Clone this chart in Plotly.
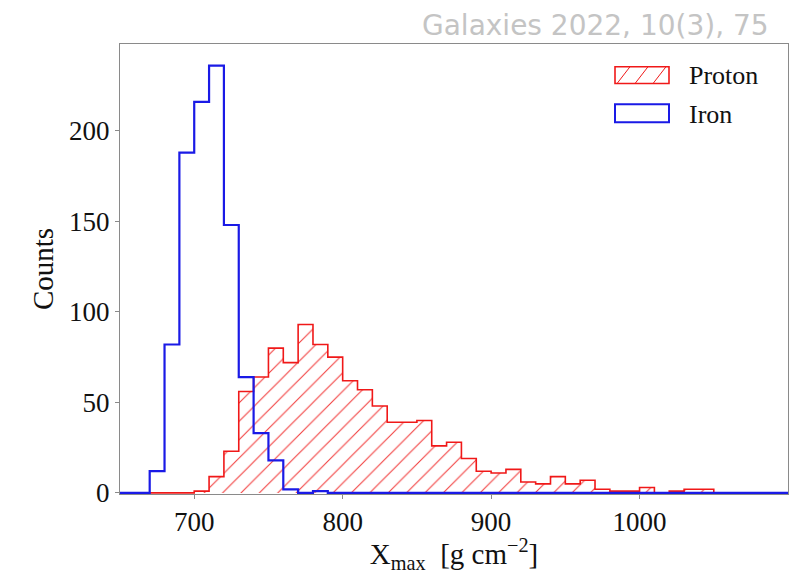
import plotly.graph_objects as go

# Histogram binning (g cm^-2)
bin_start = 650
bin_width = 10
n_bins = 45

# Counts per bin, from 650 to 1100
proton_counts = [0, 0, 0, 0, 0,
                 1, 9, 23, 56, 64, 80, 72, 93, 82, 75,
                 62, 57, 48, 39, 39, 40, 26, 28, 19, 12,
                 11, 13, 6, 5, 9, 5, 7, 2, 1, 1,
                 3, 0, 1, 2, 2, 0, 0, 0, 0, 0]
iron_counts = [0, 0, 12, 82, 188, 216, 236, 148, 64, 33, 18, 2, 0, 1,
               0, 0, 0, 0, 0, 0, 0, 0, 0, 0, 0, 0, 0, 0, 0, 0,
               0, 0, 0, 0, 0, 0, 0, 0, 0, 0, 0, 0, 0, 0, 0]

x_ticks = [700, 800, 900, 1000]
y_ticks = [0, 50, 100, 150, 200]

edges = [bin_start + i * bin_width for i in range(n_bins + 1)]

RED = "#f01818"
BLUE = "#1a1ae6"
SERIF = "Liberation Serif"


def step_outline(counts):
    xs = [edges[0]] + edges[:-1] + [edges[-1], edges[-1]]
    ys = [0] + list(counts) + [counts[-1], 0]
    return xs, ys


fig = go.Figure()

# proton histogram: hatched step fill with red outline
px_, py_ = step_outline(proton_counts)
fig.add_trace(go.Scatter(
    x=px_, y=py_, mode="lines", line=dict(color=RED, width=1.6, shape="hv"),
    fill="tozeroy", fillcolor="rgba(0,0,0,0)",
    fillpattern=dict(shape="/", fgcolor=RED, bgcolor="rgba(0,0,0,0)",
                     size=13, solidity=0.08, fgopacity=0.85),
    showlegend=False, name="Proton", hoverinfo="skip"))

# iron histogram: blue step outline
ix_, iy_ = step_outline(iron_counts)
fig.add_trace(go.Scatter(x=ix_, y=iy_, mode="lines",
                         line=dict(color=BLUE, width=2.2, shape="hv"),
                         showlegend=False, name="Iron", hoverinfo="skip"))

# plot-area geometry in pixels, used for the legend keys
W, H = 803, 574
ML, MR, MT, MB = 120, 15, 44, 75
pw, ph = W - ML - MR, H - MT - MB


def px(xp):
    return (xp - ML) / pw


def py(yp):
    return (H - MB - yp) / ph


shapes = []
# Proton key: hatched red box
bx0, bx1 = 615, 669
shapes.append(dict(type="rect", xref="paper", yref="paper",
                   x0=px(bx0), x1=px(bx1), y0=py(84), y1=py(67),
                   line=dict(color=RED, width=1.6), fillcolor="rgba(0,0,0,0)"))
for sx in [617, 635, 653]:
    x_top = min(sx + 13, bx1)
    shapes.append(dict(type="line", xref="paper", yref="paper",
                       x0=px(sx), y0=py(84), x1=px(x_top), y1=py(84 - (x_top - sx) * 17 / 13),
                       line=dict(color=RED, width=1)))
# Iron key: empty blue box
shapes.append(dict(type="rect", xref="paper", yref="paper",
                   x0=px(bx0), x1=px(bx1), y0=py(123), y1=py(105),
                   line=dict(color=BLUE, width=2), fillcolor="rgba(0,0,0,0)"))

annotations = [
    dict(text="Proton", xref="paper", yref="paper", x=px(687), y=py(76),
         xanchor="left", yanchor="middle", showarrow=False,
         font=dict(family=SERIF, size=26, color="#111")),
    dict(text="Iron", xref="paper", yref="paper", x=px(687), y=py(115),
         xanchor="left", yanchor="middle", showarrow=False,
         font=dict(family=SERIF, size=26, color="#111")),
    dict(text="Galaxies 2022, 10(3), 75", xref="paper", yref="paper",
         x=px(771), y=py(25), xanchor="right", yanchor="middle", showarrow=False,
         font=dict(family="DejaVu Sans", size=28, color="#c4c4c4")),
]

axis_common = dict(showline=True, mirror=True, linecolor="#8a8a8a", linewidth=1,
                   ticks="outside", ticklen=4, tickcolor="#8a8a8a",
                   showgrid=False, zeroline=False,
                   tickfont=dict(family=SERIF, size=27, color="#111"))

fig.update_layout(
    width=W, height=H,
    margin=dict(l=ML, r=MR, t=MT, b=MB),
    plot_bgcolor="white", paper_bgcolor="white",
    shapes=shapes, annotations=annotations,
    xaxis=dict(range=[650, 1100], tickvals=x_ticks,
               title=dict(text="X<sub>max</sub>  [g cm<sup>\u22122</sup>]",
                          font=dict(family=SERIF, size=29, color="#111"), standoff=4),
               **axis_common),
    yaxis=dict(range=[-0.6, 248], tickvals=y_ticks,
               title=dict(text="Counts", font=dict(family=SERIF, size=29, color="#111"),
                          standoff=6),
               **axis_common),
)

fig.write_html("out.html")
